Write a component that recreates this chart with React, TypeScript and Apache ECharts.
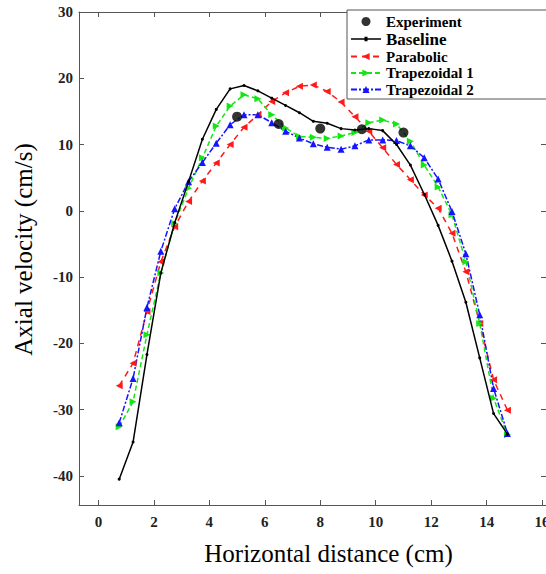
import React, { useEffect, useRef } from "react";
import * as echarts from "echarts";

const xs = [0.75, 1.25, 1.75, 2.25, 2.75, 3.25, 3.75, 4.25, 4.75, 5.25, 5.75, 6.25, 6.75, 7.25, 7.75, 8.25, 8.75, 9.25, 9.75, 10.25, 10.75, 11.25, 11.75, 12.25, 12.75, 13.25, 13.75, 14.25, 14.75];

const baseline = [-40.5, -34.9, -21.7, -9.4, -1.8, 4.4, 10.8, 15.3, 18.4, 18.9, 18.1, 17.0, 15.9, 14.8, 13.5, 13.2, 12.4, 12.2, 12.4, 12.1, 10.0, 6.9, 2.5, -2.2, -7.6, -13.8, -22.2, -30.6, -33.7];
const parabolic = [-26.4, -23.0, -15.2, -7.7, -2.4, 1.4, 4.5, 7.2, 10.0, 12.6, 14.5, 16.5, 17.8, 18.8, 19.0, 18.0, 16.4, 14.2, 12.0, 9.5, 7.0, 4.7, 2.4, 0.4, -3.4, -9.2, -17.0, -25.5, -30.1];
const trapezoidal1 = [-32.6, -28.8, -18.7, -9.4, -1.9, 3.4, 8.0, 12.8, 15.8, 17.5, 16.9, 14.5, 12.5, 11.2, 11.1, 10.9, 11.3, 11.8, 13.3, 13.7, 13.1, 10.5, 6.9, 3.6, -0.6, -7.7, -17.0, -28.3, -33.8];
const trapezoidal2 = [-32.0, -25.3, -14.6, -6.1, 0.3, 4.4, 7.3, 10.2, 13.0, 14.5, 14.5, 13.3, 12.0, 11.0, 10.1, 9.6, 9.3, 9.8, 10.7, 10.7, 10.6, 9.8, 8.0, 4.8, -0.1, -6.5, -15.7, -26.8, -33.6];

const expX = [5, 6.5, 8, 9.5, 11];
const expY = [14.2, 13.1, 12.4, 12.3, 11.8];

const xTicks = [0, 2, 4, 6, 8, 10, 12, 14, 16];
const yTicks = [-40, -30, -20, -10, 0, 10, 20, 30];

const SERIF = "'Liberation Serif', 'Times New Roman', serif";
const AXIS_COLOR = "#555";
const BASELINE_ICON = "path://M0,1.5 H13.5 V0 H16.5 V1.5 H30 V3 H16.5 V4.5 H13.5 V3 H0 Z";

const pair = (vals: number[]) => xs.map((x, i) => [x, vals[i]]);

export default function App() {
  const ref = useRef<HTMLDivElement>(null);
  useEffect(() => {
    if (!ref.current) return;
    const chart = echarts.init(ref.current, undefined, { renderer: "svg" });
    const xMin = -0.7;
    const xMax = 16.14;
    const yMin = -44.4;
    const yMax = 30;
    const tickStyle = {
      show: true,
      inside: true,
      length: 5,
      lineStyle: { color: AXIS_COLOR, width: 1 },
    };
    const option: any = {
      animation: false,
      backgroundColor: "#fff",
      grid: { left: 79, top: 12, right: 0, height: 493, containLabel: false, outerBoundsMode: "none" },
      legend: {
        orient: "vertical",
        left: 347,
        top: 10,
        backgroundColor: "#fff",
        borderColor: AXIS_COLOR,
        borderWidth: 1,
        borderRadius: 0,
        padding: [4, 120, 2, 3],
        itemWidth: 30,
        itemHeight: 9,
        itemGap: 1.5,
        align: "left",
        z: 10,
        data: [
          { name: "Experiment" },
          { name: "Baseline", icon: BASELINE_ICON },
          { name: "Parabolic" },
          { name: "Trapezoidal 1" },
          { name: "Trapezoidal 2" },
        ],
        formatter: (name: string) => (name === "Baseline" ? "{big|Baseline}" : name),
        textStyle: {
          fontFamily: SERIF,
          fontWeight: "bold",
          fontSize: 15,
          lineHeight: 14,
          color: "#000",
          rich: {
            big: { fontFamily: SERIF, fontWeight: "bold", fontSize: 17, lineHeight: 14, color: "#000" },
          },
        },
      },
      xAxis: [
        {
          type: "value",
          min: xMin,
          max: xMax,
          position: "bottom",
          name: "Horizontal distance (cm)",
          nameLocation: "middle",
          nameGap: 36,
          nameTextStyle: { fontFamily: SERIF, fontSize: 25, color: "#000", padding: [0, 0, 0, 32] },
          axisLine: { show: true, onZero: false, lineStyle: { color: AXIS_COLOR, width: 1 } },
          axisTick: { ...tickStyle, customValues: xTicks },
          axisLabel: {
            customValues: xTicks,
            margin: 9,
            fontFamily: SERIF,
            fontWeight: "bold",
            fontSize: 15,
            color: "#222",
          },
          splitLine: { show: false },
        },
        {
          type: "value",
          min: xMin,
          max: xMax,
          position: "top",
          axisLine: { show: true, onZero: false, lineStyle: { color: AXIS_COLOR, width: 1 } },
          axisTick: { ...tickStyle, customValues: xTicks },
          axisLabel: { show: false },
          splitLine: { show: false },
        },
      ],
      yAxis: [
        {
          type: "value",
          min: yMin,
          max: yMax,
          position: "left",
          name: "Axial velocity (cm/s)",
          nameLocation: "middle",
          nameRotate: 90,
          nameGap: 43,
          nameTextStyle: { fontFamily: SERIF, fontSize: 25, color: "#000", padding: [0, 0, 0, 18] },
          axisLine: { show: true, onZero: false, lineStyle: { color: AXIS_COLOR, width: 1 } },
          axisTick: { ...tickStyle, customValues: yTicks },
          axisLabel: {
            customValues: yTicks,
            margin: 6,
            fontFamily: SERIF,
            fontWeight: "bold",
            fontSize: 15,
            color: "#222",
          },
          splitLine: { show: false },
        },
        {
          type: "value",
          min: yMin,
          max: yMax,
          position: "right",
          axisLine: { show: false, onZero: false },
          axisTick: { ...tickStyle, customValues: yTicks },
          axisLabel: { show: false },
          splitLine: { show: false },
        },
      ],
      series: [
        {
          name: "Baseline",
          type: "line",
          data: pair(baseline),
          symbol: "circle",
          symbolSize: 3,
          showSymbol: true,
          lineStyle: { color: "#000", width: 1.5, type: "solid" },
          itemStyle: { color: "#000" },
          z: 3,
        },
        {
          name: "Parabolic",
          type: "line",
          data: pair(parabolic),
          symbol: "triangle",
          symbolRotate: 90,
          symbolSize: 7,
          lineStyle: { color: "#ff1a1a", width: 1.5, type: [6, 5] },
          itemStyle: { color: "#ff1a1a" },
          z: 2,
        },
        {
          name: "Trapezoidal 1",
          type: "line",
          data: pair(trapezoidal1),
          symbol: "triangle",
          symbolRotate: -90,
          symbolSize: 7,
          lineStyle: { color: "#14e614", width: 1.5, type: [5, 3] },
          itemStyle: { color: "#14e614" },
          z: 2,
        },
        {
          name: "Trapezoidal 2",
          type: "line",
          data: pair(trapezoidal2),
          symbol: "triangle",
          symbolSize: 7,
          lineStyle: { color: "#1414ff", width: 1.5, type: [6, 2, 2, 2] },
          itemStyle: { color: "#1414ff" },
          z: 2,
        },
        {
          name: "Experiment",
          type: "scatter",
          data: expX.map((x, i) => [x, expY[i]]),
          symbol: "circle",
          symbolSize: 10,
          itemStyle: { color: "#000" },
          z: 4,
        },
      ],
    };
    chart.setOption(option);
    return () => chart.dispose();
  }, []);
  return <div ref={ref} style={{ width: 546, height: 574, position: "absolute", left: 0, top: 0 }} />;
}
